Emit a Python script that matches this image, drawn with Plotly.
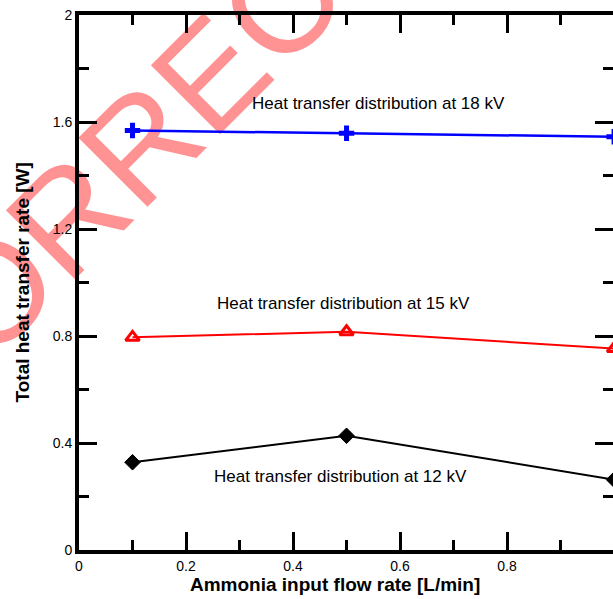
import plotly.graph_objects as go

# ---- data ----
flow_rate = [0.1, 0.5, 1.0]            # Ammonia input flow rate [L/min]
q_18kv = [1.568, 1.558, 1.545]         # Total heat transfer rate [W] at 18 kV
q_15kv = [0.795, 0.816, 0.753]         # at 15 kV
q_12kv = [0.328, 0.427, 0.263]         # at 12 kV

x_tickvals = [0, 0.2, 0.4, 0.6, 0.8]
x_ticktext = ["0", "0.2", "0.4", "0.6", "0.8"]
y_tickvals = [0, 0.4, 0.8, 1.2, 1.6, 2.0]
y_ticktext = ["0", "0.4", "0.8", "1.2", "1.6", "2"]

label_18 = "Heat transfer distribution at 18 kV"
label_15 = "Heat transfer distribution at 15 kV"
label_12 = "Heat transfer distribution at 12 kV"
x_title = "Ammonia input flow rate [L/min]"
y_title = "Total heat transfer rate [W]"
watermark = "CORRECTED"

FONT = "Liberation Sans, Arial, Helvetica, sans-serif"

fig = go.Figure()

fig.add_trace(go.Scatter(
    x=flow_rate, y=q_18kv, mode="lines+markers",
    line=dict(color="#0000ff", width=2.5),
    marker=dict(symbol="cross-thin-open", size=11, line=dict(color="#0000ff", width=5)),
    showlegend=False, hoverinfo="skip"))
fig.add_trace(go.Scatter(
    x=flow_rate, y=q_15kv, mode="lines+markers",
    line=dict(color="#ff0000", width=2),
    marker=dict(symbol="triangle-up-open", size=12, color="#ff0000",
                line=dict(color="#ff0000", width=3)),
    showlegend=False, hoverinfo="skip"))
fig.add_trace(go.Scatter(
    x=flow_rate, y=q_12kv, mode="lines+markers",
    line=dict(color="#000000", width=2),
    marker=dict(symbol="diamond", size=12, color="#000000",
                line=dict(color="#000000", width=1)),
    showlegend=False, hoverinfo="skip"))
# invisible helper trace so the right-hand tick axis is drawn
fig.add_trace(go.Scatter(
    x=flow_rate, y=q_12kv, yaxis="y2", mode="markers",
    marker=dict(opacity=0), showlegend=False, hoverinfo="skip"))

axis_common = dict(
    ticks="inside", ticklen=18, tickwidth=3, tickcolor="black",
    showgrid=False, zeroline=False,
    tickfont=dict(family=FONT, size=14, color="black"),
)

fig.update_layout(
    width=613, height=599,
    margin=dict(l=79, r=0, t=15, b=49),
    paper_bgcolor="white", plot_bgcolor="white",
    showlegend=False,
    xaxis=dict(
        range=[0, 0.998], tickvals=x_tickvals, ticktext=x_ticktext,
        showline=True, linewidth=4, linecolor="black", mirror="ticks",
        minor=dict(dtick=0.1, ticks="inside", ticklen=10, tickwidth=3, tickcolor="black"),
        **axis_common),
    yaxis=dict(
        range=[0, 2], tickvals=y_tickvals, ticktext=y_ticktext,
        showline=True, linewidth=4, linecolor="black",
        minor=dict(dtick=0.2, ticks="inside", ticklen=10, tickwidth=3, tickcolor="black"),
        **axis_common),
    yaxis2=dict(
        range=[0, 2], overlaying="y", side="right", showline=False,
        tickvals=y_tickvals, showticklabels=False,
        minor=dict(dtick=0.2, ticks="inside", ticklen=10, tickwidth=3, tickcolor="black"),
        ticks="inside", ticklen=18, tickwidth=3, tickcolor="black",
        showgrid=False, zeroline=False),
)

ann_font = dict(family=FONT, size=17, color="black")
fig.add_annotation(x=0.559, y=1.671, xref="x", yref="y", text=label_18,
                   showarrow=False, font=ann_font, xanchor="center", yanchor="middle")
fig.add_annotation(x=0.495, y=0.923, xref="x", yref="y", text=label_15,
                   showarrow=False, font=ann_font, xanchor="center", yanchor="middle")
fig.add_annotation(x=0.488, y=0.273, xref="x", yref="y", text=label_12,
                   showarrow=False, font=ann_font, xanchor="center", yanchor="middle")

title_font = dict(family=FONT, size=19, color="black")
fig.add_annotation(x=0.48, y=-0.0636, xref="paper", yref="paper", text="<b>" + x_title + "</b>",
                   showarrow=False, font=title_font, xanchor="center", yanchor="middle")
fig.add_annotation(x=(22 - 79) / 534, y=0.5, xref="paper", yref="paper", text="<b>" + y_title + "</b>",
                   showarrow=False, font=title_font, xanchor="center", yanchor="middle",
                   textangle=-90)

# watermark (drawn underneath the plot content)
wx = (190 - 79) / 534
wy = (550 - 76) / 535
fig.add_shape(type="rect", xref="paper", yref="paper",
              x0=wx - 0.005, x1=wx + 0.005, y0=wy - 0.005, y1=wy + 0.005,
              line=dict(width=0), fillcolor="rgba(0,0,0,0)", layer="below",
              label=dict(text=watermark, textangle=-45, textposition="middle center",
                         font=dict(family=FONT, size=142, color="rgba(255,40,40,0.5)")))

fig.write_html("out.html", config={"displayModeBar": False},
               post_script="document.body.style.margin='0';")
